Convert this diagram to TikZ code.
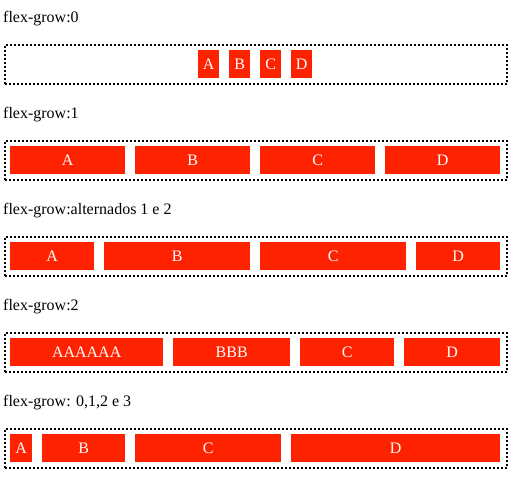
\documentclass[tikz,border=0pt]{standalone}
\usepackage{fontspec}
\setmainfont{Liberation Serif}
\usepackage{tikz}
\usetikzlibrary{positioning}

\definecolor{flexred}{RGB}{255,34,0}

\begin{document}
\begin{tikzpicture}[x=1pt,y=-1pt]
	\tikzset{font=\fontsize{16}{19}\selectfont}
	
	\tikzset{caption/.style = {anchor=base west,inner sep=0pt}}
	
	\tikzset{container/.style = {draw=black,line width=2pt,dash pattern=on 2pt off 2pt,anchor=north west,inner sep=0pt,minimum width=502pt,minimum height=39pt}}
	
	\tikzset{item/.style = {fill=flexred,text=white,anchor=north west,inner sep=0pt,minimum height=28pt}}
	
	\useasboundingbox (0,0) rectangle (520,480);
	
	% flex-grow:0
	\node[caption] (t1) at (3,22) {flex-grow:0};
	\node[container] (box1) at (4,44) {};
	\node[item,minimum width=21pt] (a1) at (198,50) {A};
	\node[item,minimum width=21pt] (b1) at (229,50) {B};
	\node[item,minimum width=21pt] (c1) at (260,50) {C};
	\node[item,minimum width=21pt] (d1) at (291,50) {D};
	
	% flex-grow:1
	\node[caption] (t2) at (3,118) {flex-grow:1};
	\node[container] (box2) at (4,140) {};
	\node[item,minimum width=115pt] (a2) at (10,146) {A};
	\node[item,minimum width=115pt] (b2) at (135,146) {B};
	\node[item,minimum width=115pt] (c2) at (260,146) {C};
	\node[item,minimum width=115pt] (d2) at (385,146) {D};
	
	% alternados
	\node[caption] (t3) at (3,214) {flex-grow:alternados 1 e 2};
	\node[container] (box3) at (4,236) {};
	\node[item,minimum width=84pt] (a3) at (10,242) {A};
	\node[item,minimum width=146pt] (b3) at (104,242) {B};
	\node[item,minimum width=146pt] (c3) at (260,242) {C};
	\node[item,minimum width=84pt] (d3) at (416,242) {D};
	
	% flex-grow:2
	\node[caption] (t4) at (3,310) {flex-grow:2};
	\node[container] (box4) at (4,332) {};
	\node[item,minimum width=153pt] (a4) at (10,338) {AAAAAA};
	\node[item,minimum width=117pt] (b4) at (173,338) {BBB};
	\node[item,minimum width=94pt] (c4) at (300,338) {C};
	\node[item,minimum width=96pt] (d4) at (404,338) {D};
	
	% 0,1,2 e 3
	\node[caption] (t5) at (3,406) {flex-grow: 0,1,2 e 3};
	\node[container] (box5) at (4,428) {};
	\node[item,minimum width=22pt] (a5) at (10,434) {A};
	\node[item,minimum width=83pt] (b5) at (42,434) {B};
	\node[item,minimum width=146pt] (c5) at (135,434) {C};
	\node[item,minimum width=209pt] (d5) at (291,434) {D};
\end{tikzpicture}
\end{document}
